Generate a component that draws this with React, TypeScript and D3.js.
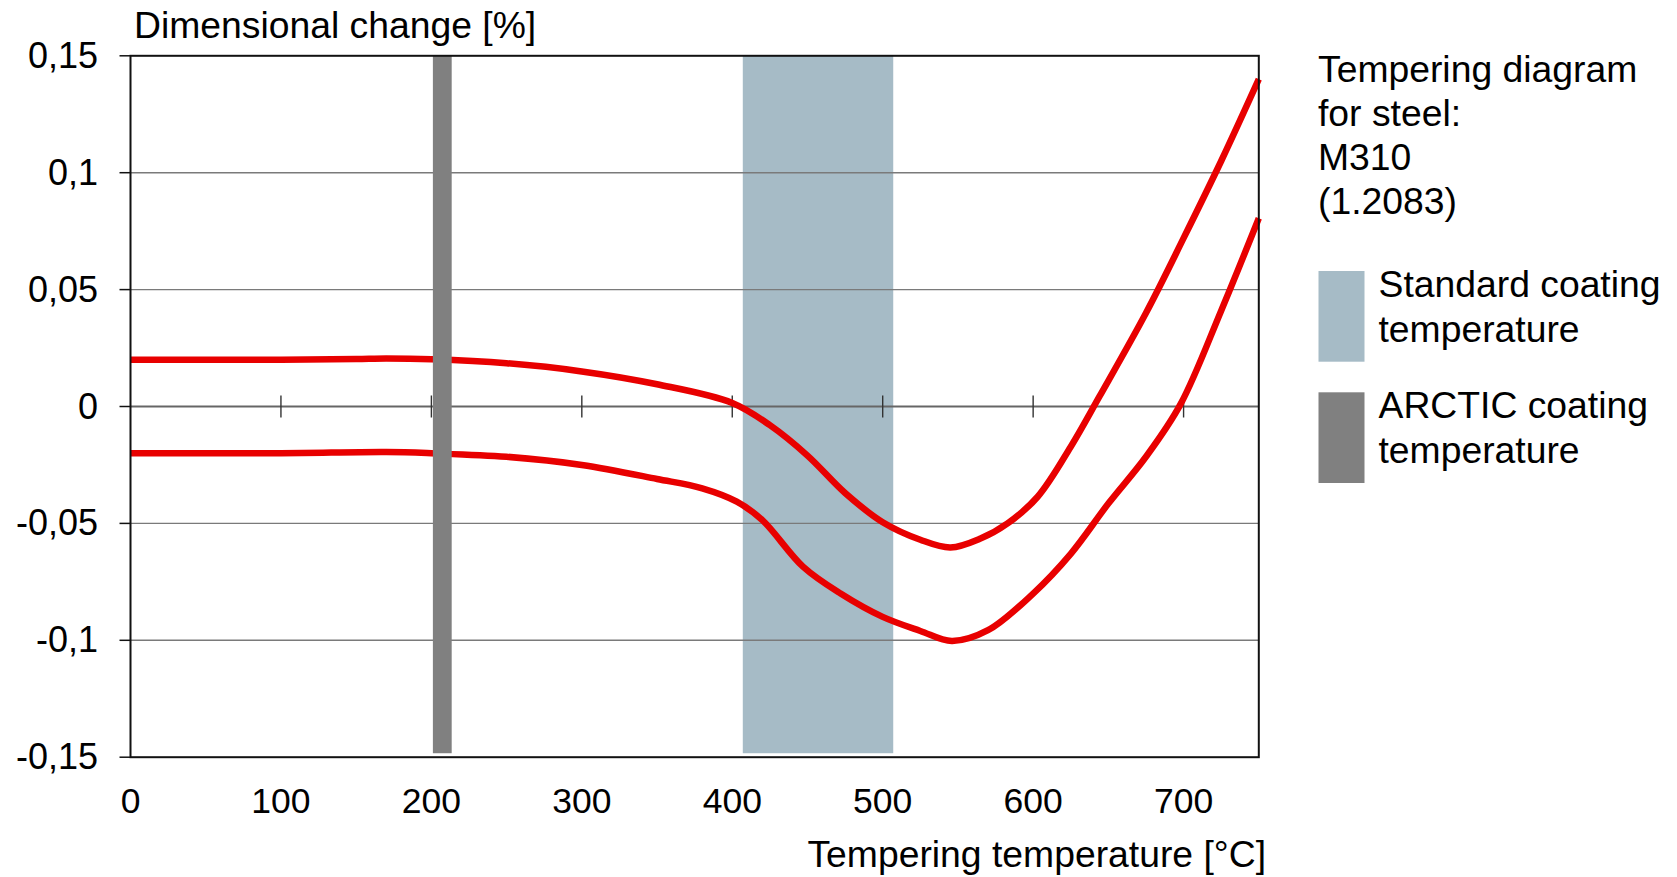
import React from "react";
import * as d3 from "d3";

const W = 1677;
const H = 877;

// x ticks (°C) and y ticks (%)
const xTicks = [0, 100, 200, 300, 400, 500, 600, 700];
const yTicks = [0.15, 0.1, 0.05, 0, -0.05, -0.1, -0.15];
const yTickLabels = ["0,15", "0,1", "0,05", "0", "-0,05", "-0,1", "-0,15"];

// Upper curve [temperature, dimensional change]
const upperTemp = [0, 50, 100, 150, 170, 200, 250, 300, 350, 400, 425, 450, 475, 500, 525, 545, 565, 583, 603, 625, 644, 675, 700, 725, 750];
const upperVal = [0.02, 0.02, 0.02, 0.0203, 0.0205, 0.0202, 0.0185, 0.015, 0.0095, 0.0015, -0.008, -0.021, -0.037, -0.0495, -0.057, -0.0603, -0.0565, -0.05, -0.0386, -0.0172, 0.0042, 0.04, 0.072, 0.105, 0.14];

// Lower curve
const lowerTemp = [0, 100, 170, 200, 250, 300, 350, 380, 403, 420, 447, 472, 500, 525, 546, 570, 600, 625, 650, 675, 698, 725, 750];
const lowerVal = [-0.02, -0.02, -0.0195, -0.02, -0.0215, -0.025, -0.031, -0.035, -0.0407, -0.0486, -0.0685, -0.08, -0.09, -0.096, -0.1003, -0.0957, -0.08, -0.063, -0.0415, -0.0215, 0.001, 0.041, 0.0805];

// Bands (temperature ranges)
const standardBand = [407, 507];
const arcticBand = [201, 213.5];
const bandValueRange = [0.15, -0.1483];

const legendTitle = ["Tempering diagram", "for steel:", "M310", "(1.2083)"];
const legendItems = [
  { label: ["Standard coating", "temperature"], color: "#a6bbc6" },
  { label: ["ARCTIC coating", "temperature"], color: "#808080" },
];

const FONT = "'Liberation Sans', Arial, sans-serif";
const TITLE_FS = 37.3;
const TICK_FS = 35.5;

export default function App() {
  const x = d3.scaleLinear().domain([0, 750]).range([130.5, 1258.8]);
  const y = d3.scaleLinear().domain([-0.15, 0.15]).range([757.2, 55.8]);

  const line = d3
    .line<[number, number]>()
    .x((d) => x(d[0]))
    .y((d) => y(d[1]))
    .curve(d3.curveCatmullRom.alpha(0.5));

  const upper = upperTemp.map((t, i) => [t, upperVal[i]] as [number, number]);
  const lower = lowerTemp.map((t, i) => [t, lowerVal[i]] as [number, number]);

  const red = "#e80000";

  return (
    <svg
      width={W}
      height={H}
      style={{ position: "absolute", left: 0, top: 0, background: "#fff" }}
      fontFamily={FONT}
    >
      <rect x={0} y={0} width={W} height={H} fill="#fff" />
      {/* standard band */}
      <rect
        x={x(standardBand[0])}
        y={y(bandValueRange[0])}
        width={x(standardBand[1]) - x(standardBand[0])}
        height={y(bandValueRange[1]) - y(bandValueRange[0])}
        fill={legendItems[0].color}
      />
      {/* gridlines */}
      {[0.1, 0.05, -0.05, -0.1].map((v) => (
        <line key={v} x1={x(0)} x2={x(750)} y1={y(v)} y2={y(v)} stroke="#7a7a7a" strokeWidth={1.4} />
      ))}
      <line x1={x(0)} x2={x(750)} y1={y(0)} y2={y(0)} stroke="#666" strokeWidth={2} />
      {xTicks.filter((t) => t > 0).map((t) => (
        <line key={t} x1={x(t)} x2={x(t)} y1={y(0) - 11} y2={y(0) + 11} stroke="#333" strokeWidth={1.4} />
      ))}
      {/* curves */}
      <path d={line(upper) || ""} fill="none" stroke={red} strokeWidth={6.5} strokeLinejoin="round" />
      <path d={line(lower) || ""} fill="none" stroke={red} strokeWidth={6.5} strokeLinejoin="round" />
      {/* arctic band on top */}
      <rect
        x={x(arcticBand[0])}
        y={y(bandValueRange[0])}
        width={x(arcticBand[1]) - x(arcticBand[0])}
        height={y(bandValueRange[1]) - y(bandValueRange[0])}
        fill={legendItems[1].color}
      />
      {/* frame */}
      <rect x={x(0)} y={y(0.15)} width={x(750) - x(0)} height={y(-0.15) - y(0.15)} fill="none" stroke="#111" strokeWidth={2} />
      {/* y ticks and labels */}
      {yTicks.map((v, i) => (
        <g key={v}>
          <line x1={x(0) - 11} x2={x(0)} y1={y(v)} y2={y(v)} stroke="#111" strokeWidth={1.5} />
          <text x={98} y={y(v) + 12} textAnchor="end" fontSize={TICK_FS + 0.5} fill="#000">
            {yTickLabels[i]}
          </text>
        </g>
      ))}
      {/* x tick labels */}
      {xTicks.map((t) => (
        <text key={t} x={x(t)} y={813} textAnchor="middle" fontSize={TICK_FS} fill="#000">
          {t}
        </text>
      ))}
      {/* axis titles */}
      <text x={134} y={37.5} fontSize={TITLE_FS} fill="#000">Dimensional change [%]</text>
      <text x={1266} y={867} textAnchor="end" fontSize={TITLE_FS} fill="#000">Tempering temperature [°C]</text>
      {/* legend */}
      {legendTitle.map((s, i) => (
        <text key={s} x={1318} y={81.7 + i * 44.2} fontSize={TITLE_FS} fill="#000">{s}</text>
      ))}
      {legendItems.map((it, i) => {
        const top = 271 + i * 121.3;
        return (
          <g key={i}>
            <rect x={1318.5} y={top} width={46} height={90.7} fill={it.color} />
            {it.label.map((s, j) => (
              <text key={j} x={1378.5} y={top + 25.7 + j * 45} fontSize={TITLE_FS} fill="#000">{s}</text>
            ))}
          </g>
        );
      })}
    </svg>
  );
}
